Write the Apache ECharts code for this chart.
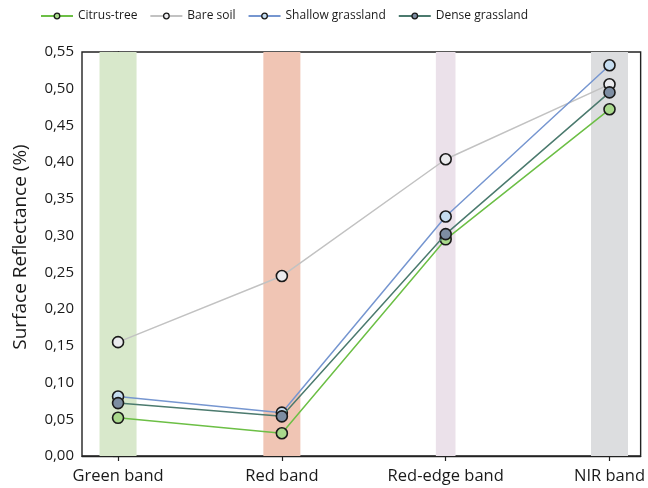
<!DOCTYPE html>
<html>
<head>
<meta charset="utf-8">
<script src="https://cdn.jsdelivr.net/npm/echarts@6/dist/echarts.min.js"></script>
<style>html,body{margin:0;padding:0;background:#fff}#c{width:648px;height:488px}</style>
</head>
<body>
<div id="c"></div>
<script>
const categories = ['Green band', 'Red band', 'Red-edge band', 'NIR band'];
const seriesNames = ['Citrus-tree', 'Bare soil', 'Shallow grassland', 'Dense grassland'];
const citrusTree = [0.052, 0.031, 0.295, 0.472];
const bareSoil = [0.155, 0.245, 0.404, 0.506];
const shallowGrassland = [0.081, 0.059, 0.326, 0.532];
const denseGrassland = [0.072, 0.054, 0.302, 0.495];
const yTicks = [0, 0.05, 0.10, 0.15, 0.20, 0.25, 0.30, 0.35, 0.40, 0.45, 0.50, 0.55];

const FONT = '"Open Sans", "Noto Sans", sans-serif';
const lineColors = ['#6cbf45', '#c2c2c2', '#7696d0', '#4b7a6e'];
const fillColors = ['#a9d98c', '#ebebee', '#c6ddf0', '#7d8da2'];
const bands = [
  { half: 0.113, color: '#d8e8cb' },
  { half: 0.113, color: '#f0c5b4' },
  { half: 0.06, color: '#ebe1ea' },
  { half: 0.113, color: '#dcdddf' }
];
const allValues = [citrusTree, bareSoil, shallowGrassland, denseGrassland];

const series = [{
  type: 'line', name: '_bands', data: [], z: 1, silent: true,
  markArea: {
    silent: true,
    data: bands.map((b, i) => [
      { xAxis: i - b.half, itemStyle: { color: b.color } },
      { xAxis: i + b.half }
    ])
  }
}];
allValues.forEach((vals, s) => {
  series.push({
    type: 'line',
    name: seriesNames[s],
    data: vals.map((v, i) => [i, v]),
    z: 3 + s,
    symbol: 'circle',
    symbolSize: 11,
    lineStyle: { color: lineColors[s], width: 1.5 },
    itemStyle: { color: fillColors[s], borderColor: '#1a1a1a', borderWidth: 1.6 },
    emphasis: { disabled: true }
  });
});

const chart = echarts.init(document.getElementById('c'), null, { renderer: 'canvas' });
chart.setOption({
  animation: false,
  backgroundColor: '#fff',
  textStyle: { fontFamily: FONT },
  legend: {
    top: 5,
    left: 35,
    data: seriesNames,
    itemWidth: 32,
    itemHeight: 7,
    itemGap: 12,
    itemStyle: { borderColor: '#1a1a1a', borderWidth: 1.3 },
    textStyle: { fontFamily: FONT, fontSize: 12, color: '#1a1a1a' }
  },
  grid: {
    left: 82, right: 6, top: 52, bottom: 32,
    show: true, borderColor: '#222', borderWidth: 1.4
  },
  xAxis: {
    type: 'value',
    min: -0.22, max: 3.19,
    splitLine: { show: false },
    axisLine: { show: true, lineStyle: { color: '#222', width: 1.4 } },
    axisTick: { show: true, length: 5, lineStyle: { color: '#222', width: 1.2 }, customValues: [0, 1, 2, 3] },
    axisLabel: {
      customValues: [0, 1, 2, 3],
      formatter: v => categories[Math.round(v)],
      fontFamily: FONT, fontSize: 16.5, color: '#1a1a1a', margin: 12
    }
  },
  yAxis: {
    type: 'value',
    min: 0, max: 0.55, interval: 0.05,
    name: 'Surface Reflectance (%)',
    nameLocation: 'middle',
    nameGap: 52,
    nameTextStyle: { fontFamily: FONT, fontSize: 19, color: '#1a1a1a', padding: [0, 0, 0, 14] },
    splitLine: { show: false },
    axisLine: { show: true, lineStyle: { color: '#222', width: 1.4 } },
    axisTick: { show: true, length: 5, lineStyle: { color: '#222', width: 1.2 } },
    axisLabel: {
      formatter: v => {
        const idx = yTicks.findIndex(t => Math.abs(t - v) < 1e-6);
        return (idx >= 0 ? yTicks[idx] : v).toFixed(2).replace('.', ',');
      },
      fontFamily: FONT, fontSize: 15, color: '#1a1a1a', margin: 8
    }
  },
  series: series
});
</script>
</body>
</html>
